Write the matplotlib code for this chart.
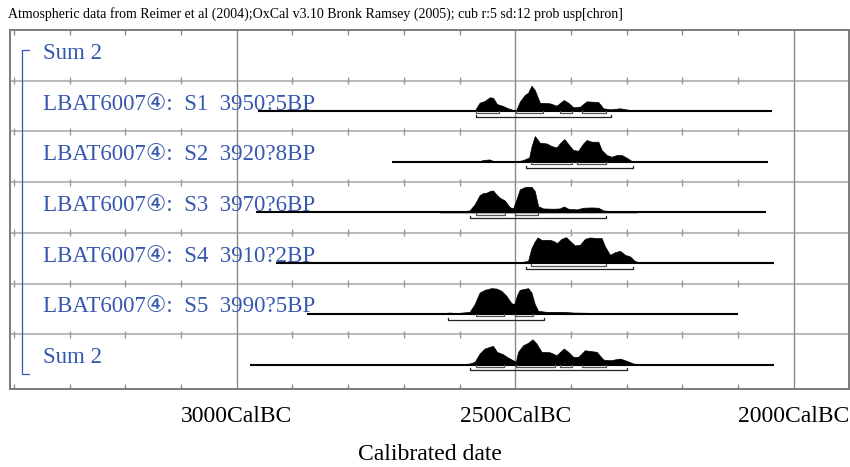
"""OxCal style multiplot of calibrated dates for LBAT6007 samples."""

import matplotlib

matplotlib.use("Agg")
import matplotlib.pyplot as plt
import numpy as np

TITLE = ("Atmospheric data from Reimer et al (2004);OxCal v3.10 Bronk Ramsey (2005); "
         "cub r:5 sd:12 prob usp[chron]")
LABELS = [
    "Sum 2",
    "LBAT6007④:  S1  3950?5BP",
    "LBAT6007④:  S2  3920?8BP",
    "LBAT6007④:  S3  3970?6BP",
    "LBAT6007④:  S4  3910?2BP",
    "LBAT6007④:  S5  3990?5BP",
    "Sum 2",
]
TICK_YEARS = [3000, 2500, 2000]
TICK_LABELS = ["3000CalBC", "2500CalBC", "2000CalBC"]

# calibrated probability distributions (years BC, relative probability)
S1_YEARS = [2582, 2573, 2564, 2555, 2546, 2540, 2533, 2522, 2513, 2503, 2499, 2492,
            2483, 2477, 2471, 2465, 2456, 2438, 2426, 2413, 2405, 2396, 2384, 2372,
            2351, 2342, 2330, 2312, 2294, 2276]
S1_PROB = [0.3, 0.3, 8.3, 10, 13.7, 13.3, 7, 5, 2.7, 1, 0, 9.3, 16, 18.3, 25.3, 21,
           8.3, 7.7, 5.3, 11, 8.3, 3.7, 4.3, 9.7, 9, 2.7, 1.7, 2.7, 1, 0]

S2_YEARS = [2567, 2558, 2546, 2537, 2498, 2486, 2475, 2471, 2465, 2456, 2444, 2435,
            2426, 2419, 2412, 2405, 2396, 2387, 2378, 2372, 2363, 2351, 2345, 2336,
            2327, 2318, 2309, 2300, 2291, 2276]
S2_PROB = [0, 1.7, 2.3, 0, 0, 1.7, 4.3, 15, 25.7, 19, 18.3, 15.7, 14.3, 19, 22.7,
           17.7, 11.7, 11, 18.3, 21.7, 20, 20, 11.7, 6.7, 5, 6.7, 6.7, 4, 0.7, 0]

S3_YEARS = [2635, 2612, 2594, 2582, 2573, 2564, 2558, 2552, 2546, 2540, 2534, 2528,
            2519, 2510, 2504, 2498, 2492, 2483, 2471, 2465, 2459, 2450, 2432, 2420,
            2413, 2405, 2390, 2378, 2363, 2351, 2342, 2312, 2282]
S3_PROB = [0, 0.7, 1.3, 2, 8, 17.3, 19.3, 19.7, 21.3, 22, 18, 14.7, 12, 5.3, 4, 13,
           23, 25.3, 25.7, 21.3, 6.3, 4, 3.7, 4, 6, 3.7, 3, 4.7, 5, 4.7, 2, 0.7, 0]

S4_YEARS = [2564, 2546, 2534, 2501, 2492, 2477, 2471, 2465, 2460, 2453, 2438, 2432,
            2425, 2417, 2409, 2402, 2393, 2384, 2375, 2366, 2354, 2345, 2339, 2330,
            2321, 2312, 2303, 2294, 2286, 2277, 2259, 2241, 2223]
S4_PROB = [0.3, 1, 0, 0, 0.7, 2.3, 15, 21.7, 25.7, 23.3, 23.3, 22.3, 20, 24.3, 26,
           22.3, 17.7, 18.3, 24.3, 25.7, 25, 25, 16.7, 8.3, 11, 12.3, 8.3, 6.7, 2.3,
           0.7, 0, 1, 0]

S5_YEARS = [2671, 2636, 2618, 2606, 2582, 2573, 2564, 2555, 2543, 2534, 2525, 2516,
            2507, 2502, 2496, 2492, 2477, 2471, 2465, 2459, 2444, 2414, 2396, 2366,
            2348, 2312, 2277]
S5_PROB = [0, 0.3, 1.3, 0.7, 2, 9.7, 21.3, 24, 25.7, 25.3, 23, 18, 10.7, 9.7, 19.7,
           24, 25.7, 21.3, 9.7, 3, 2, 2, 1.3, 1, 0.7, 0.3, 0]

SUM_YEARS = [2600, 2582, 2573, 2564, 2555, 2546, 2540, 2533, 2522, 2513, 2504, 2499,
             2495, 2486, 2477, 2469, 2462, 2453, 2438, 2426, 2413, 2405, 2396, 2387,
             2375, 2354, 2342, 2330, 2312, 2300, 2288, 2264]
SUM_PROB = [0.3, 1, 2.7, 11, 16, 17.7, 18.7, 12.7, 10.3, 7, 4.3, 2.7, 12.7, 19.3,
            21.7, 25.3, 21, 12.7, 12.3, 9.3, 16, 12.7, 7.7, 7.7, 14.3, 12.7, 5, 4.3,
            6, 3.7, 1, 0]

# extent of the plotted baseline for each row (years BC)
LINE_SPANS = [None, (2962, 2040), (2722, 2047), (2966, 2050), (2930, 2036),
              (2874, 2100), (2977, 2036)]
# highest probability ranges: 68.2% and 95.4%
RANGES_68 = [[], [(2571, 2530), (2499, 2450), (2420, 2399), (2380, 2338)],
             [(2471, 2399), (2390, 2338)],
             [(2570, 2519), (2500, 2459)],
             [(2471, 2338)],
             [(2570, 2520), (2500, 2469)],
             [(2571, 2520), (2499, 2429), (2420, 2399), (2380, 2338)]]
RANGES_95 = [[], [(2571, 2329)], [(2480, 2288)], [(2581, 2338)], [(2480, 2289)],
             [(2621, 2449)], [(2581, 2299)]]

DISTS = [None, (S1_YEARS, S1_PROB), (S2_YEARS, S2_PROB), (S3_YEARS, S3_PROB),
         (S4_YEARS, S4_PROB), (S5_YEARS, S5_PROB), (SUM_YEARS, SUM_PROB)]

BLUE = "#3557ae"
ROW_PX = 50.7
PROB_SCALE = 1.0 / ROW_PX
BASE_OFF = 0.598
X_MIN, X_MAX = 3407, 1901
Y_MAX = 7.08
SERIF = ["Liberation Serif", "DejaVu Serif", "DejaVu Sans"]


def main() -> None:
    fig = plt.figure(figsize=(8.5, 4.67), dpi=100)
    ax = fig.add_axes([10 / 850, 1 - 389 / 467, 839 / 850, 359 / 467])
    ax.set_xlim(X_MIN, X_MAX)
    ax.set_ylim(Y_MAX, 0)
    ax.set_xticks([])
    ax.set_yticks([])
    for spine in ax.spines.values():
        spine.set_color("#7a7a7a")
        spine.set_linewidth(1.4)

    # grid: row separators, major year lines and minor ticks
    for r in range(1, len(LABELS)):
        ax.axhline(r, color="#b4b4b4", lw=1.3, zorder=1)
    for yr in TICK_YEARS:
        ax.axvline(yr, color="#8a8a8a", lw=1.0, zorder=1)
    minor = [y for y in range(3400, 1899, -100) if y not in TICK_YEARS]
    tick = 3.5 / ROW_PX
    for r in range(1, len(LABELS)):
        ax.vlines(minor, r - tick, r + tick, color="#9a9a9a", lw=1.0, zorder=1)
    ax.vlines(minor, 0, tick * 1.3, color="#8a8a8a", lw=1.0, zorder=1)
    ax.vlines(minor, Y_MAX - tick * 1.3, Y_MAX, color="#8a8a8a", lw=1.0, zorder=1)

    for i, label in enumerate(LABELS):
        base = i + BASE_OFF
        ax.text(3347, base - 1.5 / ROW_PX, label, color=BLUE, fontsize=16.5,
                family=SERIF, ha="left", va="baseline", zorder=2)
        if DISTS[i] is None:
            continue
        years, prob = DISTS[i]
        years = np.asarray(years, dtype=float)
        prob = np.asarray(prob, dtype=float)
        start, end = LINE_SPANS[i]
        ax.plot([start, end], [base, base], color="black", lw=1.5, zorder=3,
                solid_capstyle="butt")
        ax.fill_between(years, base, base - prob * PROB_SCALE, color="black",
                        lw=0.5, zorder=3)
        for ranges, off, col in ((RANGES_68[i], 2.4, "#555555"),
                                 (RANGES_95[i], 5.8, "#222222")):
            yb = base + off / ROW_PX
            for a, b in ranges:
                ax.plot([a, a, b, b], [yb - 2 / ROW_PX, yb, yb, yb - 2 / ROW_PX],
                        color=col, lw=0.9, zorder=3)

    # bracket spanning the sum group
    top = BASE_OFF - 10 / ROW_PX
    bottom = 6 + BASE_OFF + 9 / ROW_PX
    ax.plot([3372, 3385, 3385, 3372], [top, top, bottom, bottom], color=BLUE,
            lw=0.9, zorder=2)

    for yr, lab in zip(TICK_YEARS, TICK_LABELS):
        fig.text((10 + (X_MIN - yr) / (X_MIN - X_MAX) * 839) / 850, 1 - 417 / 467,
                 lab, fontsize=17, family=SERIF, ha="center", va="center")
    fig.text(429.5 / 850, 1 - 455 / 467, "Calibrated date", fontsize=17,
             family=SERIF, ha="center", va="center")
    fig.text(8 / 850, 1 - 14 / 467, TITLE, fontsize=10, family=SERIF,
             ha="left", va="center")

    fig.savefig("out.png", dpi=100)
    plt.close(fig)


if __name__ == "__main__":
    main()
